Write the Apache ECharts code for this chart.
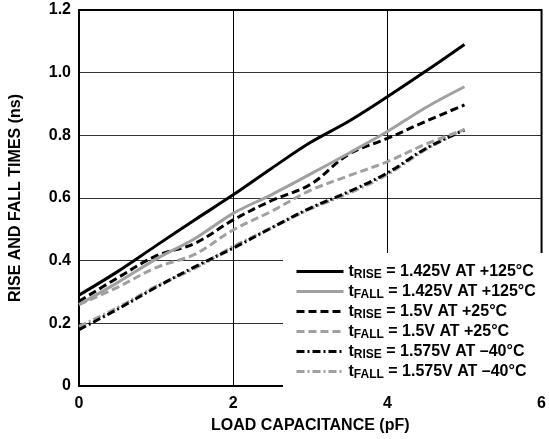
<!DOCTYPE html>
<html>
<head>
<meta charset="utf-8">
<script src="https://cdn.jsdelivr.net/npm/echarts@6/dist/echarts.min.js"></script>
<style>
html,body{margin:0;padding:0;background:#fff;}
#c{width:549px;height:439px;}
</style>
</head>
<body>
<div id="c"></div>
<script>
// Load capacitance (pF)
var loadCap = [0, 0.5, 1, 1.5, 2, 2.5, 3, 3.5, 4, 4.5, 5];
// Rise/fall times (ns)
var tRise125 = [0.29, 0.365, 0.448, 0.53, 0.61, 0.695, 0.777, 0.845, 0.923, 1.005, 1.09];
var tFall125 = [0.26, 0.33, 0.405, 0.47, 0.551, 0.611, 0.676, 0.743, 0.812, 0.889, 0.955];
var tRise25  = [0.27, 0.345, 0.415, 0.455, 0.53, 0.592, 0.643, 0.74, 0.79, 0.845, 0.897];
var tFall25  = [0.26, 0.315, 0.378, 0.42, 0.498, 0.558, 0.624, 0.671, 0.716, 0.772, 0.818];
var tRiseM40 = [0.18, 0.245, 0.315, 0.38, 0.44, 0.505, 0.568, 0.62, 0.68, 0.758, 0.817];
var tFallM40 = [0.19, 0.25, 0.318, 0.375, 0.445, 0.505, 0.565, 0.615, 0.675, 0.755, 0.82];
var xTicks = [0, 2, 4, 6];
var yTicks = [0, 0.2, 0.4, 0.6, 0.8, 1.0, 1.2];
var seriesNames = [
  '{t|t}{s|RISE}{r| = 1.425V AT +125°C}',
  '{t|t}{s|FALL}{r| = 1.425V AT +125°C}',
  '{t|t}{s|RISE}{r| = 1.5V AT +25°C}',
  '{t|t}{s|FALL}{r| = 1.5V AT +25°C}',
  '{t|t}{s|RISE}{r| = 1.575V AT \u201340°C}',
  '{t|t}{s|FALL}{r| = 1.575V AT \u201340°C}'
];

function pairs(ys){ return loadCap.map(function(x,i){ return [x, ys[i]]; }); }

var FONT = '"Liberation Sans", Arial, sans-serif';
var BLACK = '#000000', GRAY = '#a0a0a0';
var styles = [
  {color: BLACK, type: 'solid'},
  {color: GRAY, type: 'solid'},
  {color: BLACK, type: [8, 4]},
  {color: GRAY, type: [8, 4]},
  {color: BLACK, type: [8, 3, 2, 3]},
  {color: GRAY, type: [8, 3, 2, 3]}
];
var dataSets = [tRise125, tFall125, tRise25, tFall25, tRiseM40, tFallM40];

var series = dataSets.map(function(ys, i){
  return {
    name: seriesNames[i],
    type: 'line',
    data: pairs(ys),
    smooth: 0.35,
    symbol: 'none',
    color: styles[i].color,
    lineStyle: {color: styles[i].color, width: 3, type: styles[i].type},
    z: 10 - i
  };
});

var chart = echarts.init(document.getElementById('c'), null, {renderer: 'canvas'});
chart.setOption({
  animation: false,
  backgroundColor: '#fff',
  grid: {left: 78, top: 10, right: 1, bottom: 53, show: true, borderColor: '#000', borderWidth: 2, backgroundColor: 'transparent', z: 5},
  xAxis: {
    type: 'value', min: xTicks[0], max: xTicks[xTicks.length-1], interval: 2,
    name: 'LOAD CAPACITANCE (pF)', nameLocation: 'middle', nameGap: 32,
    nameTextStyle: {fontFamily: FONT, fontWeight: 'bold', fontSize: 16, color: '#000'},
    axisLine: {show: false}, axisTick: {show: false},
    axisLabel: {fontFamily: FONT, fontWeight: 'bold', fontSize: 16, color: '#000', margin: 10},
    splitLine: {show: true, lineStyle: {color: '#000', width: 1}}
  },
  yAxis: {
    type: 'value', min: yTicks[0], max: yTicks[yTicks.length-1], interval: 0.2,
    name: 'RISE AND FALL TIMES (ns)', nameLocation: 'middle', nameGap: 55,
    nameTextStyle: {fontFamily: FONT, fontWeight: 'bold', fontSize: 16, color: '#000'},
    axisLine: {show: false}, axisTick: {show: false},
    axisLabel: {fontFamily: FONT, fontWeight: 'bold', fontSize: 16, color: '#000', margin: 8,
      formatter: function(v){ return v === 0 ? '0' : v.toFixed(1); }},
    splitLine: {show: true, lineStyle: {color: '#333', width: 1}}
  },
  legend: {
    orient: 'vertical', left: 283, top: 253,
    backgroundColor: '#fff', padding: [9, 14, 10, 12],
    itemWidth: 47, itemHeight: 14, itemGap: 1,
    z: 20,
    itemStyle: {opacity: 0},
    lineStyle: {width: 3},
    textStyle: {
      fontFamily: FONT, fontWeight: 'bold', fontSize: 16, color: '#000',
      rich: {
        t: {fontFamily: FONT, fontWeight: 'bold', fontSize: 16, color: '#000', lineHeight: 18},
        s: {fontFamily: FONT, fontWeight: 'bold', fontSize: 12, color: '#000', lineHeight: 12, padding: [7, 0, 0, 0]},
        r: {fontFamily: FONT, fontWeight: 'bold', fontSize: 16, color: '#000', lineHeight: 18}
      }
    },
    data: seriesNames
  },
  series: series
});
</script>
</body>
</html>
